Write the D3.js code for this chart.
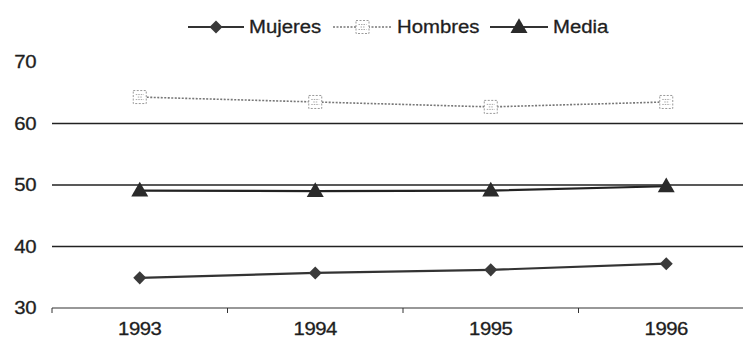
<!DOCTYPE html>
<html>
<head>
<meta charset="utf-8">
<script src="https://cdn.jsdelivr.net/npm/d3@7"></script>
<style>
  html, body { margin: 0; padding: 0; background: #fff; }
  svg { display: block; }
  text { font-family: "Liberation Sans", Arial, sans-serif; fill: #1e1e1e; }
</style>
</head>
<body>
<svg id="chart" width="743" height="352"></svg>
<script>
// Years on the category axis
const years = ["1993", "1994", "1995", "1996"];
// Series values
const mujeres = [34.9, 35.7, 36.2, 37.2];
const hombres = [64.3, 63.5, 62.7, 63.5];
const media = [49.1, 49.0, 49.1, 49.8];
// Value axis ticks
const yTicks = [30, 40, 50, 60, 70];
const seriesNames = ["Mujeres", "Hombres", "Media"];

const FONT_SIZE = 18;
const STRETCH = "scale(1.13,1)"; // wide, slightly heavy lettering
const svg = d3.select("#chart");

const x = d3.scaleBand().domain(years).range([52, 754]).padding(0);
const y = d3.scaleLinear().domain([30, 70]).range([308, 62]);
const cx = d => x(d) + x.bandwidth() / 2;

// Horizontal gridlines (above the base)
svg.append("g")
  .selectAll("line")
  .data(yTicks.filter(t => t > 30 && t < 70))
  .join("line")
  .attr("x1", 52).attr("x2", 743)
  .attr("y1", d => y(d)).attr("y2", d => y(d))
  .attr("stroke", "#222").attr("stroke-width", 1.5);

// Value axis labels
svg.append("g")
  .selectAll("g")
  .data(yTicks)
  .join("g")
  .attr("transform", d => `translate(36,${y(d)}) ${STRETCH}`)
  .append("text")
  .attr("dy", "0.36em")
  .attr("text-anchor", "end")
  .attr("font-size", FONT_SIZE)
  .attr("stroke", "#1e1e1e").attr("stroke-width", 0.3)
  .attr("letter-spacing", -0.4)
  .text(d => d);

// Category axis
const xAxis = d3.axisBottom(x).tickSize(0).tickPadding(14).tickSizeOuter(0);
const gx = svg.append("g").attr("transform", `translate(0,${y(30)})`).call(xAxis);
gx.select(".domain").remove();
gx.selectAll(".tick text")
  .attr("font-size", FONT_SIZE)
  .attr("letter-spacing", -0.4)
  .attr("fill", "#1e1e1e")
  .attr("stroke", "#1e1e1e").attr("stroke-width", 0.3)
  .attr("transform", STRETCH)
  .style("font-family", "'Liberation Sans', Arial, sans-serif");
gx.append("line")
  .attr("x1", 52).attr("x2", 743).attr("y1", 0).attr("y2", 0)
  .attr("stroke", "#333").attr("stroke-width", 1.2);
gx.selectAll(".sep")
  .data([...years.map(d => x(d)), 754])
  .join("line")
  .attr("class", "sep")
  .attr("x1", d => d).attr("x2", d => d)
  .attr("y1", 0).attr("y2", 5)
  .attr("stroke", "#333").attr("stroke-width", 1);

const line = d3.line().x((d, i) => cx(years[i])).y(d => y(d));

// Hombres: dotted grey line with hatched square markers
svg.append("path")
  .datum(hombres)
  .attr("d", line)
  .attr("fill", "none")
  .attr("stroke", "#777")
  .attr("stroke-width", 1.6)
  .attr("stroke-dasharray", "2,1.5");

function hombresMarker(g, px, py) {
  g.append("rect")
    .attr("x", px - 6.5).attr("y", py - 6.5)
    .attr("width", 13).attr("height", 13)
    .attr("fill", "#fff")
    .attr("stroke", "#999")
    .attr("stroke-width", 1)
    .attr("stroke-dasharray", "2,1.5");
  g.append("path")
    .attr("d", `M${px - 4},${py - 2.5}h8M${px - 4},${py + 2.5}h8M${px - 2},${py}h4`)
    .attr("stroke", "#aaa").attr("stroke-width", 1)
    .attr("stroke-dasharray", "1.5,1");
}
const gh = svg.append("g");
hombres.forEach((v, i) => hombresMarker(gh, cx(years[i]), y(v)));

// Media: solid dark line with triangles
svg.append("path")
  .datum(media)
  .attr("d", line)
  .attr("fill", "none")
  .attr("stroke", "#222")
  .attr("stroke-width", 2.2);
const tri = d3.symbol().type(d3.symbolTriangle).size(125);
svg.append("g")
  .selectAll("path")
  .data(media)
  .join("path")
  .attr("transform", (d, i) => `translate(${cx(years[i])},${y(d) + 1})`)
  .attr("d", tri)
  .attr("fill", "#2a2a2a");

// Mujeres: solid dark line with diamonds
svg.append("path")
  .datum(mujeres)
  .attr("d", line)
  .attr("fill", "none")
  .attr("stroke", "#333")
  .attr("stroke-width", 2.2);
const diamond = d3.symbol().type(d3.symbolSquare).size(85);
svg.append("g")
  .selectAll("path")
  .data(mujeres)
  .join("path")
  .attr("transform", (d, i) => `translate(${cx(years[i])},${y(d)}) rotate(45)`)
  .attr("d", diamond)
  .attr("fill", "#3a3a3a");

// Legend
const legend = svg.append("g").attr("transform", "translate(0,27)");
const legendItems = [
  { name: seriesNames[0], x0: 188, x1: 244, tx: 249 },
  { name: seriesNames[1], x0: 333, x1: 392, tx: 397 },
  { name: seriesNames[2], x0: 490, x1: 548, tx: 553 }
];
legendItems.forEach((it, i) => {
  const mid = (it.x0 + it.x1) / 2;
  const ln = legend.append("line")
    .attr("x1", it.x0).attr("x2", it.x1).attr("y1", 0).attr("y2", 0)
    .attr("stroke", i === 1 ? "#777" : "#333")
    .attr("stroke-width", i === 1 ? 1.6 : 2.2);
  if (i === 1) ln.attr("stroke-dasharray", "2,1.5");
  if (i === 0) {
    legend.append("path").attr("transform", `translate(${mid},0) rotate(45)`)
      .attr("d", diamond).attr("fill", "#3a3a3a");
  } else if (i === 1) {
    hombresMarker(legend, mid, 0);
  } else {
    legend.append("path").attr("transform", `translate(${mid},1)`)
      .attr("d", tri).attr("fill", "#2a2a2a");
  }
  legend.append("g")
    .attr("transform", `translate(${it.tx},0) ${STRETCH}`)
    .append("text")
    .attr("dy", "0.36em")
    .attr("font-size", FONT_SIZE)
    .attr("stroke", "#1e1e1e").attr("stroke-width", 0.3)
    .text(it.name);
});
</script>
</body>
</html>
